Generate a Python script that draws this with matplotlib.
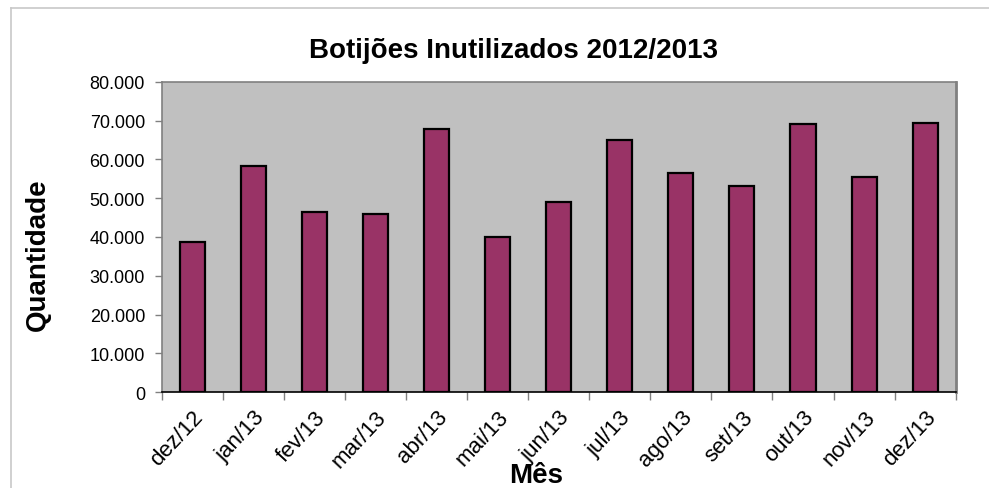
import numpy as np
import matplotlib.pyplot as plt
from matplotlib.lines import Line2D
from matplotlib.ticker import FuncFormatter

plt.rcParams['font.family'] = ['Liberation Sans', 'DejaVu Sans']

meses = ['dez/12', 'jan/13', 'fev/13', 'mar/13', 'abr/13', 'mai/13', 'jun/13',
         'jul/13', 'ago/13', 'set/13', 'out/13', 'nov/13', 'dez/13']
quantidade = [38700, 58200, 46400, 45900, 67800, 40000, 49100,
              65000, 56600, 53100, 69000, 55500, 69400]
yticks = [0, 10000, 20000, 30000, 40000, 50000, 60000, 70000, 80000]

fig = plt.figure(figsize=(9.89, 4.89), dpi=100)
ax = fig.add_axes([0.1635, 0.1957, 0.8028, 0.6352])
ax.set_facecolor('#C0C0C0')

x = np.arange(len(meses))
ax.bar(x, quantidade, width=0.41, color='#993366', edgecolor='black',
       linewidth=1.6, zorder=3)

ax.set_xlim(-0.5, len(meses) - 0.5)
ax.set_ylim(0, 80000)
ax.set_yticks(yticks)
ax.yaxis.set_major_formatter(FuncFormatter(lambda v, p: f'{int(v):,}'.replace(',', '.')))
ax.tick_params(axis='y', length=5, width=1, color='#808080', pad=7, labelsize=13)

# category labels in the middle, tick marks on the boundaries
ax.set_xticks(x)
ax.set_xticklabels(meses, rotation=47, ha='right', rotation_mode='anchor', fontsize=16)
ax.set_xticks(np.arange(len(meses) + 1) - 0.5, minor=True)
ax.tick_params(axis='x', which='major', length=0, pad=10)
ax.tick_params(axis='x', which='minor', length=6, width=1, color='#808080')

for s in ['top', 'left']:
    ax.spines[s].set_color('#808080')
    ax.spines[s].set_linewidth(1.2)
ax.spines['right'].set_color('#808080')
ax.spines['right'].set_linewidth(2)
ax.spines['bottom'].set_color('black')
ax.spines['bottom'].set_linewidth(1.2)

fig.text(0.519, 0.881, 'Botijões Inutilizados 2012/2013', ha='center',
         va='baseline', fontsize=20, fontweight='bold')
fig.text(0.542, 0.012, 'Mês', ha='center', va='baseline', fontsize=20, fontweight='bold')
fig.text(0.038, 0.48, 'Quantidade', ha='center', va='center', rotation=90,
         fontsize=20, fontweight='bold')

# light frame of the chart area (cut off right and bottom)
fig.add_artist(Line2D([11 / 989, 1], [1 - 9 / 489] * 2, color='#C8C8C8', lw=1.2))
fig.add_artist(Line2D([11 / 989] * 2, [0, 1 - 9 / 489], color='#C8C8C8', lw=1.2))

fig.savefig('out.png', dpi=100)
